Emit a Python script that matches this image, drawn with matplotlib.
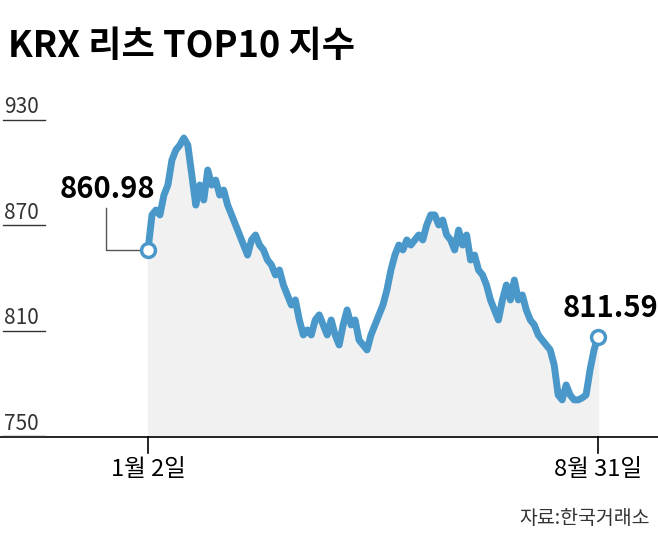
import matplotlib.pyplot as plt

plt.rcParams['font.family'] = ['Noto Sans CJK KR', 'DejaVu Sans']

# index values (Jan 2 .. Aug 31)
values = [861.0, 880.9, 883.7, 880.9, 892.2, 897.9, 912.0, 917.8, 920.6, 924.6,
          920.6, 903.6, 886.5, 897.9, 889.4, 906.4, 897.9, 900.7, 892.2, 895.0,
          886.5, 880.9, 875.2, 869.5, 863.8, 858.1, 866.7, 869.5, 863.8, 861.0,
          855.3, 852.5, 846.8, 849.6, 841.1, 835.4, 829.7, 832.6, 821.2, 812.7,
          815.5, 812.7, 821.2, 824.1, 818.4, 812.7, 821.2, 812.7, 807.0, 818.4,
          826.9, 818.4, 821.2, 809.8, 807.0, 804.2, 812.7, 818.4, 824.1, 829.7,
          838.3, 849.6, 858.1, 863.8, 861.0, 866.7, 863.8, 866.7, 869.5, 866.7,
          875.2, 880.9, 880.9, 875.2, 878.0, 869.5, 866.7, 861.0, 872.3, 863.8,
          869.5, 855.3, 858.1, 849.6, 846.8, 841.1, 832.6, 826.9, 821.2, 832.6,
          841.1, 832.6, 843.9, 832.6, 835.4, 826.9, 821.2, 818.4, 812.7, 809.8,
          807.0, 804.2, 795.6, 778.6, 775.8, 784.3, 778.6, 775.8, 775.8, 776.9,
          778.6, 792.8, 804.2, 811.59]
first_label = "860.98"
last_label = "811.59"
y_ticks = [930, 870, 810, 750]
x_labels = ["1월 2일", "8월 31일"]

blue = "#4a98c9"
n = len(values)
x = list(range(n))

fig = plt.figure(figsize=(6.58, 5.41), dpi=100)
ax = fig.add_axes([0, 1 - 437 / 541, 1, (437 - 90) / 541])
span = (n - 1) / 450
ax.set_xlim(-148 * span, (658 - 148) * span)
ybot, ytop = 754.7, 951.9
ax.set_ylim(ybot, ytop)
ax.axis('off')

ax.fill_between(x, values, ybot, color="#f1f1f1", zorder=1)
ax.plot(x, values, color=blue, lw=5, solid_joinstyle='round', zorder=3)
ax.plot([x[0], x[-1]], [values[0], values[-1]], 'o', ms=10, mfc='white',
        mec=blue, mew=2.5, zorder=4)

# baseline and end ticks
ax.plot([ax.get_xlim()[0], ax.get_xlim()[1]], [ybot, ybot], color='black', lw=1.2,
        clip_on=False)
for xi in (x[0], x[-1]):
    ax.plot([xi, xi], [ybot, ybot - 9], color='black', lw=1.2, clip_on=False)
ax.text(x[0], ybot - 12, x_labels[0], ha='center', va='top', fontsize=17, clip_on=False)
ax.text(x[-1], ybot - 12, x_labels[1], ha='center', va='top', fontsize=17, clip_on=False)

# y ticks: label over short line
x0 = ax.get_xlim()[0]
for t in y_ticks:
    ax.plot([x0 + 3 * span, x0 + 45 * span], [t + 5, t + 5], color='#333333', lw=1,
            clip_on=False)
    ax.text(x0 + 4 * span, t + 6, str(t), ha='left', va='bottom', fontsize=15,
            color='#333333', clip_on=False)

# first value label with connector
cx = x0 + 106 * span
ax.plot([cx, cx, x[0] - 6 * span], [values[0] + 24, values[0], values[0]],
        color='#555555', lw=1, zorder=2)
ax.text(x0 + 60 * span, values[0] + 26, first_label, ha='left', va='bottom',
        fontsize=21, fontweight='bold')
ax.text(x[-1] + 12 * span, values[-1] + 8, last_label, ha='center', va='bottom',
        fontsize=21, fontweight='bold')

fig.text(8 / 658, 1 - 46 / 541, "KRX 리츠 TOP10 지수", fontsize=26, fontweight='bold',
         va='center', ha='left')
fig.text(650 / 658, 1 - 518 / 541, "자료:한국거래소", fontsize=14, ha='right',
         va='center', color='#333333')

fig.savefig('out.png', dpi=100)
